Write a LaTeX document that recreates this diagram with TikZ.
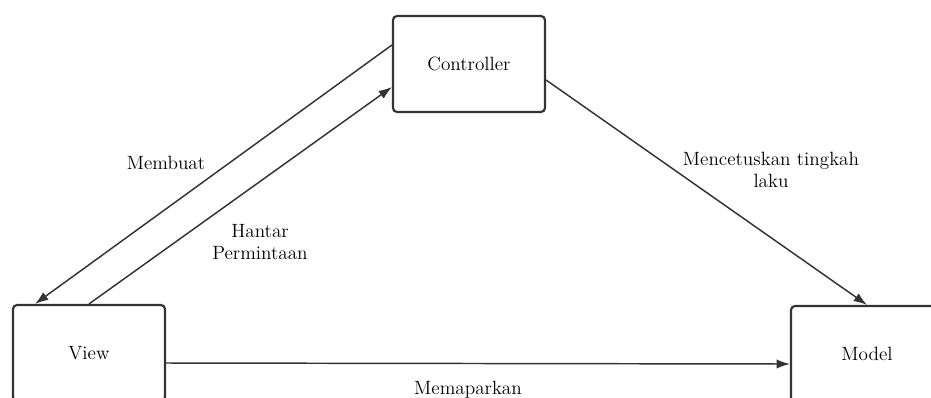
\documentclass[tikz,border=0pt]{standalone}
\usetikzlibrary{arrows.meta}

\begin{document}
\begin{tikzpicture}[
    x=0.75pt, y=-0.75pt,
    box/.style={rectangle, rounded corners=3pt, draw=black!80, line width=1.6pt,
                minimum width=114pt, minimum height=72pt, align=center,
                text=black, font=\fontsize{14.4}{16}\selectfont},
    line/.style={-{Latex[length=10pt,width=7pt]}, line width=1.1pt, draw=black!80},
    lbl/.style={align=center, text=black, font=\fontsize{14.4}{16}\selectfont},
  ]

  \clip (0,0) rectangle (931,397);

  \node[box] (controller) at (469,64) {Controller};
  \node[box] (view)  at (89,353) {View};
  \node[box] (model) at (867,354) {Model};

  % controller <-> view
  \draw[line] ([yshift=14.25pt]controller.west) -- ([xshift=-40.5pt]view.north);
  \draw[line] (view.north) -- ([yshift=-17.25pt]controller.west);

  % controller to model, view to model
  \draw[line] ([yshift=-12pt]controller.east) -- (model.north);
  \draw[line] ([yshift=-7.5pt]view.east) -- ([yshift=-7.5pt]model.west);

  \node[lbl] (membuat) at (166,163) {Membuat};
  \node[lbl] (hantar)  at (260,242) {Hantar\\Permintaan};
  \node[lbl] (cetus)   at (771,170) {Mencetuskan tingkah\\laku};
  \node[lbl] (papar)   at (468,390) {Memaparkan};

\end{tikzpicture}
\end{document}
